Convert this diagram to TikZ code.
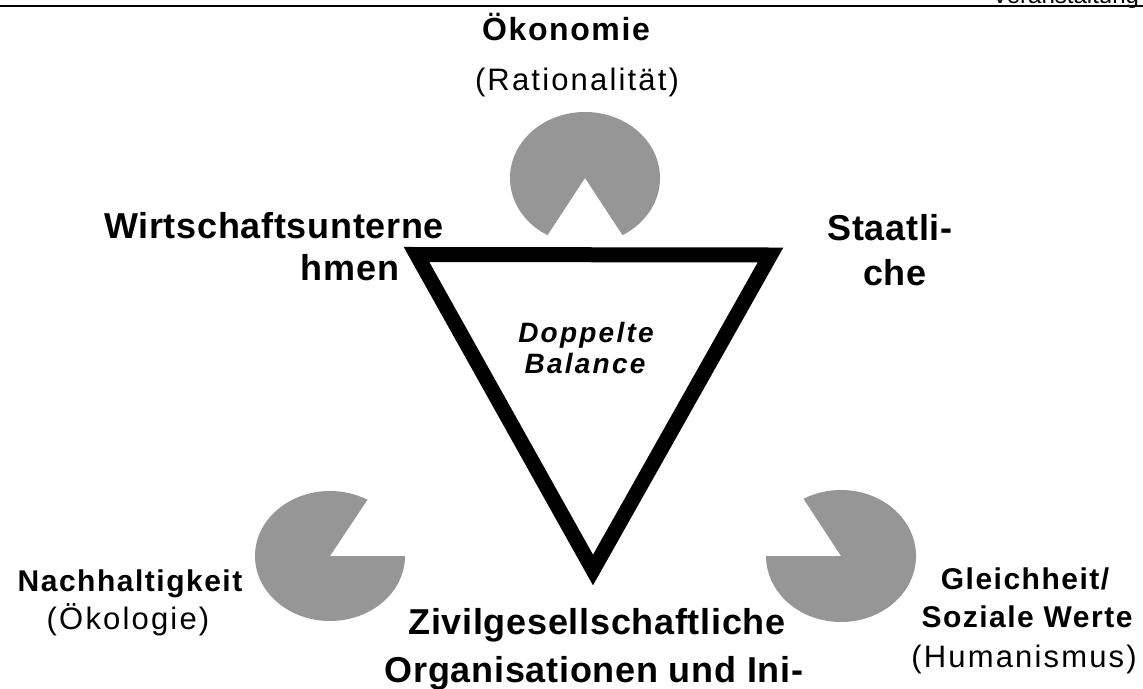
\documentclass[tikz,border=0pt]{standalone}
\usepackage{fontspec}
\setmainfont{Liberation Sans}
\newfontfamily\bigfont[LetterSpace=2]{Liberation Sans}
\newfontfamily\smallfont[LetterSpace=5]{Liberation Sans}
\newfontfamily\regfont[LetterSpace=7]{Liberation Sans}
\newfontfamily\midfont[LetterSpace=8]{Liberation Sans}
\begin{document}
\begin{tikzpicture}[x=1pt,y=-1pt,
  biglab/.style={font=\bigfont\fontsize{36}{40}\selectfont\bfseries, anchor=base, inner sep=0pt},
  lab/.style={font=\smallfont\fontsize{30}{34}\selectfont\bfseries, anchor=base, inner sep=0pt},
  labreg/.style={font=\regfont\fontsize{31}{35}\selectfont, anchor=base, inner sep=0pt},
  midlab/.style={font=\midfont\fontsize{28}{32}\selectfont\bfseries\itshape, anchor=base, inner sep=0pt},
  pac/.style={fill=pacgray},
  tri/.style={draw=black, line width=15pt, line join=miter, miter limit=10}
]
\definecolor{pacgray}{RGB}{150,150,150}
\useasboundingbox (0,0) rectangle (1143,688);
\clip (0,0) rectangle (1143,688);
% top rule and cut header text
\draw[line width=2.5pt] (0,6) -- (1143,6);
\node[anchor=base west, inner sep=0pt, font=\fontsize{24}{28}\selectfont] (hdr) at (992,3) {Veranstaltung};
% pac-man shapes
\fill[pac] (585,178) -- ++(120:75 and 66) arc[start angle=120, end angle=420, x radius=75, y radius=66] -- cycle;
\fill[pac] (330,556) -- ++(0:75 and 65) arc[start angle=0, end angle=300, x radius=75, y radius=65] -- cycle;
\fill[pac] (841,556) -- ++(240:75 and 66) arc[start angle=240, end angle=540, x radius=75, y radius=66] -- cycle;
% triangle
\coordinate (tl) at (416.5,254.5);
\coordinate (tr) at (770.5,255);
\coordinate (bt) at (593,570);
\draw[tri] (tl) -- (tr) -- (bt) -- cycle;
% labels
\node[lab, font=\smallfont\fontsize{32}{36}\selectfont\bfseries] (oek) at (566,40) {Ökonomie};
\node[labreg] (rat) at (577,90) {(Rationalität)};
\node[biglab] (wirt1) at (274,238) {Wirtschaftsunterne};
\node[biglab] (wirt2) at (350,280) {hmen};
\node[biglab] (staat1) at (890,240) {Staatli-};
\node[biglab] (staat2) at (895,285) {che};
\node[midlab] (dop1) at (586,342) {Doppelte};
\node[midlab] (dop2) at (585,373) {Balance};
\node[biglab] (ziv1) at (597,634) {Zivilgesellschaftliche};
\node[biglab] (ziv2) at (594,682) {Organisationen und Ini-};
\node[lab] (nach1) at (130,591) {Nachhaltigkeit};
\node[labreg] (nach2) at (128,629) {(Ökologie)};
\node[lab] (gl1) at (1025,589) {Gleichheit/};
\node[lab] (gl2) at (1027,627) {Soziale Werte};
\node[labreg] (gl3) at (1024,667) {(Humanismus)};
\end{tikzpicture}
\end{document}
